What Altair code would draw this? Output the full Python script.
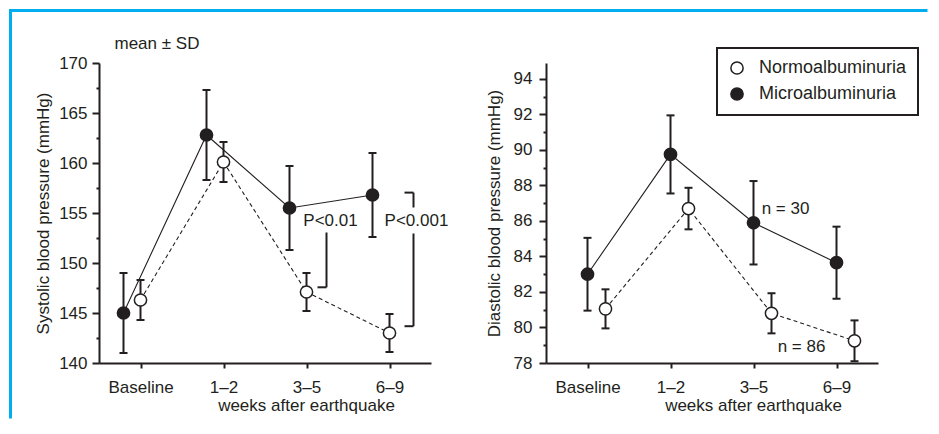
import altair as alt
import pandas as pd

# ---------------- data ----------------
categories = ["Baseline", "1–2", "3–5", "6–9"]
groups = ["Normoalbuminuria", "Microalbuminuria"]

# Systolic blood pressure (mmHg), mean and SD
sys_micro_mean = [145.0, 162.8, 155.5, 156.8]
sys_micro_sd = [4.0, 4.5, 4.2, 4.2]
sys_normo_mean = [146.3, 160.1, 147.1, 143.0]
sys_normo_sd = [2.0, 2.0, 1.9, 1.9]

# Diastolic blood pressure (mmHg), mean and SD
dia_micro_mean = [83.0, 89.75, 85.9, 83.65]
dia_micro_sd = [2.05, 2.2, 2.35, 2.03]
dia_normo_mean = [81.05, 86.7, 80.8, 79.25]
dia_normo_sd = [1.1, 1.17, 1.13, 1.15]

# axis ticks
sys_ticks = [140, 142.5, 145, 147.5, 150, 152.5, 155, 157.5, 160, 162.5, 165, 167.5, 170]
dia_ticks = [78, 79, 80, 81, 82, 83, 84, 85, 86, 87, 88, 89, 90, 91, 92, 93, 94]

# annotations (values in data units)
note_mean_sd = ["mean ± SD"]
note_mean_sd_y = [171.9]
p_labels = ["P<0.01", "P<0.001"]
p_label_y = [154.25, 154.25]
p01_bracket = [153.05, 147.57]                    # vertical: top, bottom (horizontal foot at bottom)
p001_bracket = [157.04, 155.55, 152.95, 143.68]   # top, gap top, gap bottom, bottom
n_labels = ["n = 30", "n = 86"]
n_label_y = [86.66, 78.9]

# ---------------- style ----------------
INK = "#231f20"
BLUE = "#00aeef"
FONT = "Liberation Sans"
FS = 17


def build(mm, ms, nm, ns):
    rows = []
    for g, means, sds in ((groups[1], mm, ms), (groups[0], nm, ns)):
        for c, m, s in zip(categories, means, sds):
            rows.append({"week": c, "group": g, "mean": m, "lo": m - s, "hi": m + s})
    return pd.DataFrame(rows)


sys_df = build(sys_micro_mean, sys_micro_sd, sys_normo_mean, sys_normo_sd)
dia_df = build(dia_micro_mean, dia_micro_sd, dia_normo_mean, dia_normo_sd)

X = alt.X(
    "week:N",
    sort=categories,
    scale=alt.Scale(type="point", padding=0.5, domain=categories),
    axis=alt.Axis(
        title="weeks after earthquake",
        labelAngle=0,
        tickSize=5,
        labelPadding=11,
        titlePadding=2,
        titleX=207,
        titleAlign="center",
    ),
)
X2 = alt.X2("week")


def make_y(domain, ticks, major, title, label_pad, title_pad):
    def y(field):
        return alt.Y(
            f"{field}:Q",
            scale=alt.Scale(domain=domain, nice=False, zero=False),
            axis=alt.Axis(
                title=title,
                values=ticks,
                labelExpr=f"datum.value % {major} === 0 ? datum.label : ''",
                tickSize={"condition": {"test": f"datum.value % {major} === 0", "value": 7}, "value": 3},
                labelPadding=label_pad,
                titlePadding=title_pad,
            ),
        )
    return y


def group_layers(df, group, offset, dashed, Y, legend):
    d = df[df["group"] == group]
    base = alt.Chart(d)
    line_kw = dict(color=INK, strokeWidth=1.1, xOffset=offset)
    if dashed:
        line_kw["strokeDash"] = [4, 3]
    line = base.mark_line(**line_kw).encode(x=X, y=Y("mean"))
    err = base.mark_rule(color=INK, strokeWidth=2, xOffset=offset).encode(
        x=X, y=Y("lo"), y2=alt.Y2("hi")
    )
    cap_lo = base.mark_tick(color=INK, thickness=2, size=8, xOffset=offset, opacity=1).encode(x=X, y=Y("lo"))
    cap_hi = base.mark_tick(color=INK, thickness=2, size=8, xOffset=offset, opacity=1).encode(x=X, y=Y("hi"))
    fill_kw = dict(scale=alt.Scale(domain=groups, range=["white", INK]))
    if legend is not None:
        fill_kw["legend"] = legend
    else:
        fill_kw["legend"] = None
    pts = base.mark_point(
        shape="circle", filled=True, size=150, stroke=INK, strokeWidth=1.5, opacity=1, xOffset=offset
    ).encode(x=X, y=Y("mean"), fill=alt.Fill("group:N", **fill_kw))
    return [line, err, cap_lo, cap_hi], [pts]


def text_layer(label, week, yval, Y, offset, align="center"):
    d = pd.DataFrame({"week": [week], "val": [yval], "label": [label]})
    return alt.Chart(d).mark_text(
        font=FONT, fontSize=FS, color=INK, align=align, baseline="middle", xOffset=offset
    ).encode(x=X, y=Y("val"), text="label:N")


def rule_v(week, y1, y2, Y, offset):
    d = pd.DataFrame({"week": [week], "a": [y1], "b": [y2]})
    return alt.Chart(d).mark_rule(color=INK, strokeWidth=2, xOffset=offset).encode(
        x=X, y=Y("a"), y2=alt.Y2("b")
    )


def rule_h(week, yv, Y, off1, off2):
    d = pd.DataFrame({"week": [week], "a": [yv]})
    return alt.Chart(d).mark_rule(color=INK, strokeWidth=2, xOffset=off1, x2Offset=off2).encode(
        x=X, x2=X2, y=Y("a")
    )


# ---------------- left panel ----------------
Ys = make_y([140, 170], sys_ticks, 5, "Systolic blood pressure (mmHg)", 5, 6)

frame = alt.Data(values=[{}])
frame_top = alt.Chart(frame).mark_rule(color=BLUE, strokeWidth=3, strokeCap="square").encode(
    x=alt.value(-88.5), x2=alt.value(827), y=alt.value(-52.5)
)
frame_left = alt.Chart(frame).mark_rule(color=BLUE, strokeWidth=3, strokeCap="square").encode(
    x=alt.value(-88.5), y=alt.value(-52.5), y2=alt.value(354)
)

lm_back, lm_pts = group_layers(sys_df, groups[1], -17, False, Ys, None)
ln_back, ln_pts = group_layers(sys_df, groups[0], 0, True, Ys, None)

left_layers = [frame_top, frame_left] + lm_back + ln_back + [
    text_layer(note_mean_sd[0], "Baseline", note_mean_sd_y[0], Ys, -26, "left"),
    text_layer(p_labels[0], "3–5", p_label_y[0], Ys, 24),
    text_layer(p_labels[1], "6–9", p_label_y[1], Ys, 27),
    rule_v("3–5", p01_bracket[0], p01_bracket[1], Ys, 20),
    rule_h("3–5", p01_bracket[1], Ys, 11, 20),
    rule_h("6–9", p001_bracket[0], Ys, 15, 24),
    rule_v("6–9", p001_bracket[0], p001_bracket[1], Ys, 24),
    rule_v("6–9", p001_bracket[2], p001_bracket[3], Ys, 24),
    rule_h("6–9", p001_bracket[3], Ys, 15, 24),
] + lm_pts + ln_pts

left = alt.layer(*left_layers).properties(width=332, height=300)

# ---------------- right panel ----------------
Yd = make_y([78, 94.9], dia_ticks, 2, "Diastolic blood pressure (mmHg)", 7, 10)

legend = alt.Legend(
    title=None, orient="none", legendX=171, legendY=-15,
    labelExpr="datum.label + '\u2002'",
)
rm_back, rm_pts = group_layers(dia_df, groups[1], 0, False, Yd, legend)
rn_back, rn_pts = group_layers(dia_df, groups[0], 18, True, Yd, legend)

right_layers = rm_back + rn_back + [
    text_layer(n_labels[0], "3–5", n_label_y[0], Yd, 32),
    text_layer(n_labels[1], "6–9", n_label_y[1], Yd, -35),
] + rn_pts + rm_pts

right = alt.layer(*right_layers).properties(width=332, height=300)

chart = (
    alt.hconcat(left, right, spacing=115, bounds="flush")
    .resolve_scale(x="independent", y="independent", fill="independent")
    .resolve_legend(fill="independent")
    .properties(padding=0, background="white")
    .configure_view(strokeWidth=0)
    .configure_axis(
        labelFont=FONT,
        titleFont=FONT,
        labelFontSize=FS,
        titleFontSize=FS,
        titleFontWeight="normal",
        labelColor=INK,
        titleColor=INK,
        domainColor=INK,
        tickColor=INK,
        domainWidth=2,
        tickWidth=2,
        grid=False,
    )
    .configure_legend(
        labelFont=FONT,
        labelFontSize=18,
        labelColor=INK,
        strokeColor=INK,
        strokeWidth=2,
        padding=11,
        rowPadding=6,
        symbolSize=150,
        symbolType="circle",
        symbolStrokeColor=INK,
        symbolStrokeWidth=1.5,
        labelOffset=13,
    )
)

chart.save("out.html", embed_options={"renderer": "svg", "actions": False})
